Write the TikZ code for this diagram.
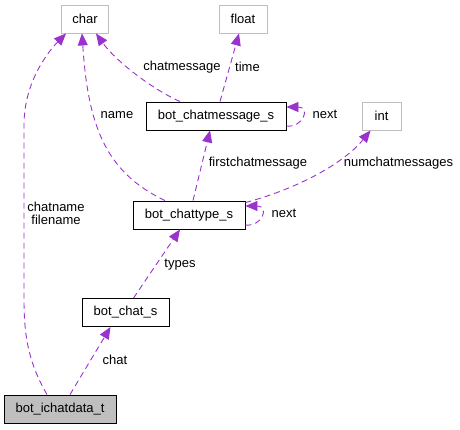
\documentclass[tikz,border=0pt]{standalone}
\usepackage{fontspec}
\setmainfont{Liberation Sans}
\usepackage{xcolor}
\usetikzlibrary{positioning, arrows.meta}
\definecolor{cEdge}  {HTML}{9A32CD}
\definecolor{cExtern}{HTML}{BFBFBF}
\definecolor{cFocus} {HTML}{BFBFBF}

\begin{document}
\begin{tikzpicture}[x=1pt, y=-1pt,
    every node/.style={font=\fontsize{13}{15}\selectfont, inner sep=0pt},
    structbox/.style={draw=black, line width=0.9pt, minimum height=28pt},
    externbox/.style={draw=cExtern, line width=0.9pt, minimum height=28pt},
    edge/.style={draw=cEdge, line width=0.9pt, dash pattern=on 6pt off 4pt,
                 -{Stealth[length=12pt, width=10pt, inset=0pt]}},
    lbl/.style={text=black},
  ]
  \useasboundingbox (0,0) rectangle (460,429);

  % types outside the struct graph
  \node[externbox, minimum width=47pt] (char)  at (85,19)    {char};
  \node[externbox, minimum width=48pt] (float) at (243,19)   {float};
  \node[externbox, minimum width=39pt] (int)   at (381.5,116) {int};

  % structs
  \node[structbox, minimum width=140pt] (chatmsg)  at (216,116)   {bot\_chatmessage\_s};
  \node[structbox, minimum width=112pt] (chattype) at (189,215)   {bot\_chattype\_s};
  \node[structbox, minimum width=87pt]  (chat)     at (125.5,312.5) {bot\_chat\_s};
  \node[structbox, minimum width=112pt, fill=cFocus] (ichat) at (60,409) {bot\_ichatdata\_t};

  % members
  \draw[edge] ([xshift=-13pt]ichat.north) .. controls (30,365) and (24,340) .. (24,300)
        -- (24,125) .. controls (24,85) and (45,55) .. ([xshift=-19pt]char.south);
  \node[lbl, align=center] (lchatname) at (56,213) {chatname\\[-2pt]filename};

  \draw[edge] ([xshift=10pt]ichat.north) -- ([xshift=-15pt]chat.south);
  \node[lbl] (lchat) at (115,360) {chat};

  \draw[edge] ([xshift=8pt]chat.north) -- ([xshift=-9pt]chattype.south);
  \node[lbl] (ltypes) at (180,265) {types};

  \draw[edge] ([xshift=-24pt]chattype.north) .. controls (105,172) and (88,125)
        .. ([xshift=-3pt]char.south);
  \node[lbl] (lname) at (117,115) {name};

  \draw[edge] ([xshift=4pt]chattype.north) -- ([xshift=-6pt]chatmsg.south);
  \node[lbl] (lfirst) at (258,163) {firstchatmessage};

  \draw[edge] ([yshift=-2pt]chattype.north east) .. controls (300,188) and (345,162)
        .. ([xshift=-11pt]int.south);
  \node[lbl] (lnum) at (398.5,163) {numchatmessages};

  \draw[edge] ([yshift=-10pt]chattype.east) .. controls (262,227) and (270,206)
        .. ([yshift=9pt]chattype.east);
  \node[lbl] (lnext1) at (284,213) {next};

  \draw[edge] ([yshift=-10pt]chatmsg.east) .. controls (303,128) and (311,107)
        .. ([yshift=9pt]chatmsg.east);
  \node[lbl] (lnext2) at (325,114) {next};

  \draw[edge] ([xshift=-36pt]chatmsg.north) .. controls (150,88) and (115,60)
        .. ([xshift=11pt]char.south);
  \node[lbl] (lcmsg) at (182,67) {chatmessage};

  \draw[edge] ([xshift=4pt]chatmsg.north) -- ([xshift=-4pt]float.south);
  \node[lbl] (ltime) at (247.5,67) {time};
\end{tikzpicture}
\end{document}
